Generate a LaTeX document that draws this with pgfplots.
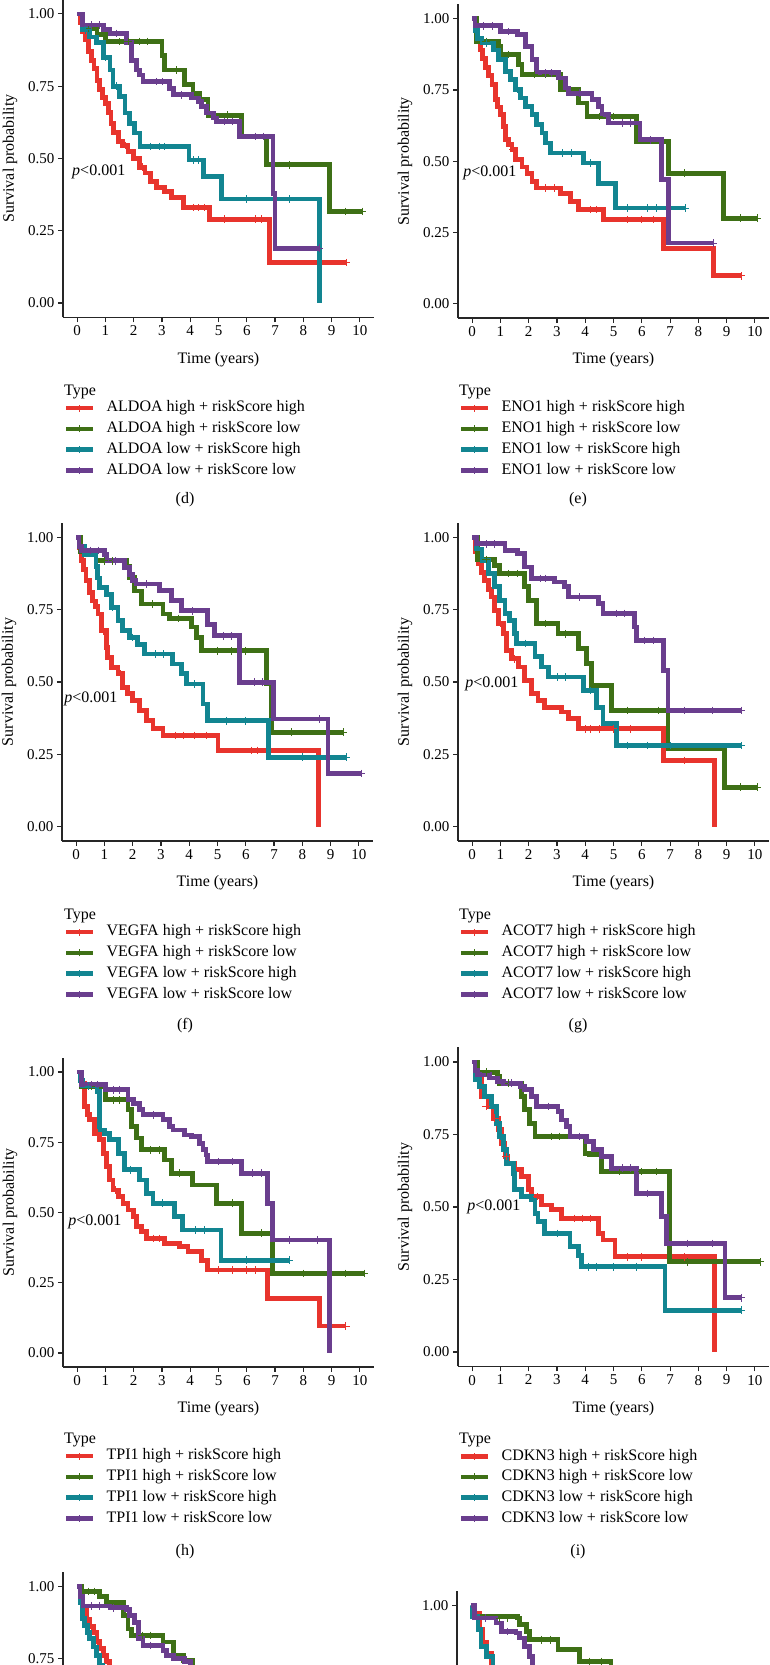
\documentclass[border=0pt]{standalone}
\usepackage{fontspec}
\setmainfont{Liberation Serif}
\usepackage{pgfplots}
\pgfplotsset{compat=1.18}
\definecolor{kmred}{RGB}{232,52,45}
\definecolor{kmgreen}{RGB}{62,112,22}
\definecolor{kmteal}{RGB}{18,133,145}
\definecolor{kmpurple}{RGB}{106,62,142}
\newcommand{\kf}{\fontsize{16}{19}\selectfont}
\pgfplotsset{
  /pgf/number format/assume math mode=true,
  legend image code/.code={
    \draw[#1, line width=4.5pt] (0pt,0pt) -- (27pt,0pt);
    \draw[#1, line width=0.8pt] (13.5pt,-3.5pt) -- (13.5pt,3.5pt);
    \path (38pt,0pt);
  },
  km/.style={
    scale only axis, width=311pt, anchor=south west,
    xmin=-0.5, xmax=10.5, ymin=-0.05, ymax=1.05,
    axis lines=left, axis line style={-, line width=1.1pt, black!85},
    tick style={line width=1.1pt, black!85}, tick align=outside, major tick length=5pt,
    xtick={0,...,10}, ytick={0,0.25,0.5,0.75,1},
    yticklabel={\pgfmathprintnumber[fixed,fixed zerofill,precision=2]{\tick}},
    tick label style={font=\fontsize{15}{18}\selectfont},
    xlabel={Time (years)}, ylabel={Survival probability},
    every axis x label/.style={at={(axis description cs:0.5,0)}, yshift=-42pt, anchor=center, font=\kf},
    every axis y label/.style={at={(axis description cs:-0.1704,0.5)}, rotate=90, anchor=center, font=\kf},
    clip=false,
    legend cell align=left,
    legend style={draw=none, fill=none, inner sep=0pt, outer sep=0pt, anchor=north west,
      row sep=6.2pt, nodes={inner sep=0pt, text height=11pt, text depth=3.5pt, font=\kf}},
  },
  kml/.style={const plot, line width=4.8pt, no marks},
  cens/.style={only marks, mark=+, mark size=3.8pt, mark options={line width=0.8pt}, forget plot},
}
\begin{document}
\begin{tikzpicture}
\useasboundingbox (0,0) rectangle (770pt,1665pt);
\clip (0,0) rectangle (770pt,1665pt);

% panel labels and legend titles
\foreach \yy/\la/\lb in {1165/d/e, 639/f/g, 113/h/i}{
  \node[font=\kf] at (185pt,\yy pt) {(\la)};
  \node[font=\kf] at (578pt,\yy pt) {(\lb)};
}
\foreach \yy in {1269, 745, 221}{
  \node[font=\kf, anchor=base west, inner sep=0pt] at (64pt,\yy pt) {Type};
  \node[font=\kf, anchor=base west, inner sep=0pt] at (459pt,\yy pt) {Type};
}

% (d) ALDOA
\begin{axis}[km, at={(63pt,1347.5pt)}, height=318pt,
  legend style={at={(axis description cs:0,0)}, xshift=1pt, yshift=-83.5pt},
  legend entries={ALDOA high + riskScore high, ALDOA high + riskScore low, ALDOA low + riskScore high, ALDOA low + riskScore low}]
\addplot[kml, kmred] coordinates {(0,1) (0.1,0.97) (0.2,0.94) (0.3,0.91) (0.4,0.87) (0.5,0.84) (0.6,0.81) (0.7,0.77) (0.8,0.74) (0.9,0.71) (1.0,0.69) (1.1,0.66) (1.2,0.62) (1.3,0.59) (1.45,0.56) (1.6,0.545) (1.8,0.525) (2.0,0.50) (2.2,0.47) (2.4,0.45) (2.6,0.42) (2.8,0.40) (3.1,0.385) (3.35,0.365) (3.75,0.33) (4.67,0.29) (6.8,0.14) (9.53,0.14)};
\addplot[kml, kmgreen] coordinates {(0,1) (0.2,0.95) (0.7,0.93) (1.0,0.905) (3.0,0.855) (3.1,0.806) (3.8,0.755) (4.1,0.726) (4.34,0.703) (4.63,0.65) (5.81,0.576) (6.7,0.478) (8.94,0.317) (10.1,0.317)};
\addplot[kml, kmteal] coordinates {(0,1) (0.2,0.945) (0.45,0.92) (0.68,0.9) (0.92,0.85) (1.16,0.806) (1.27,0.75) (1.5,0.714) (1.69,0.657) (1.86,0.622) (2.04,0.588) (2.22,0.541) (3.96,0.495) (4.46,0.438) (5.1,0.36) (8.56,0)};
\addplot[kml, kmpurple] coordinates {(0,1) (0.2,0.962) (0.92,0.945) (1.16,0.933) (1.75,0.9) (1.92,0.84) (2.1,0.806) (2.2,0.789) (2.33,0.766) (3.28,0.743) (3.4,0.72) (4.04,0.709) (4.28,0.697) (4.4,0.68) (4.58,0.657) (4.81,0.64) (4.93,0.628) (5.75,0.576) (6.93,0.38) (7.0,0.19) (8.56,0.19)};
\addplot[cens, kmred] coordinates {(0.55,0.84) (1.05,0.69) (1.7,0.545) (2.3,0.47) (4.1,0.33) (4.3,0.33) (4.5,0.33) (5.2,0.29) (6.3,0.29) (6.5,0.29) (9.53,0.14)};
\addplot[cens, kmgreen] coordinates {(0.4,0.95) (1.5,0.905) (1.8,0.905) (2.2,0.905) (2.5,0.905) (3.5,0.806) (5.3,0.65) (7.5,0.478) (9.5,0.317) (10.1,0.317)};
\addplot[cens, kmteal] coordinates {(0.3,0.945) (1.0,0.85) (1.4,0.75) (2.6,0.541) (2.9,0.541) (3.1,0.541) (4.1,0.495) (4.3,0.495) (6.0,0.36) (7.5,0.36)};
\addplot[cens, kmpurple] coordinates {(0.5,0.962) (0.8,0.962) (1.4,0.933) (2.8,0.766) (3.0,0.766) (3.7,0.72) (5.2,0.628) (5.5,0.628) (6.3,0.576) (6.6,0.576) (8.56,0.19)};
\node[font=\kf, anchor=west, inner sep=0pt] at (axis cs:-0.18,0.455) {\textit{p}<0.001};
\end{axis}

% (e) ENO1
\begin{axis}[km, at={(458pt,1347pt)}, height=313.5pt,
  legend style={at={(axis description cs:0,0)}, xshift=1pt, yshift=-83pt},
  legend entries={ENO1 high + riskScore high, ENO1 high + riskScore low, ENO1 low + riskScore high, ENO1 low + riskScore low}]
\addplot[kml, kmred] coordinates {(0,1) (0.1,0.96) (0.2,0.92) (0.29,0.89) (0.38,0.86) (0.47,0.83) (0.58,0.80) (0.7,0.77) (0.82,0.716) (0.9,0.69) (1.0,0.663) (1.12,0.622) (1.18,0.575) (1.3,0.56) (1.41,0.54) (1.53,0.505) (1.76,0.48) (1.94,0.458) (2.12,0.43) (2.29,0.406) (3.12,0.388) (3.47,0.36) (3.76,0.33) (4.65,0.295) (6.76,0.195) (8.53,0.098) (9.53,0.098)};
\addplot[kml, kmgreen] coordinates {(0,1) (0.15,0.92) (0.94,0.903) (1.0,0.874) (1.65,0.839) (1.76,0.804) (3.12,0.751) (3.76,0.704) (4.06,0.657) (5.82,0.57) (6.94,0.458) (8.9,0.30) (10.1,0.30)};
\addplot[kml, kmteal] coordinates {(0,1) (0.1,0.96) (0.2,0.93) (0.35,0.915) (0.76,0.89) (0.94,0.856) (1.18,0.815) (1.35,0.786) (1.53,0.751) (1.7,0.722) (1.88,0.692) (2.12,0.663) (2.29,0.628) (2.47,0.599) (2.59,0.564) (2.76,0.529) (3.94,0.494) (4.47,0.423) (5.06,0.336) (7.53,0.336)};
\addplot[kml, kmpurple] coordinates {(0,1) (0.1,0.975) (1.0,0.955) (1.6,0.944) (1.88,0.903) (2.12,0.856) (2.29,0.81) (3.06,0.792) (3.29,0.757) (3.41,0.739) (4.24,0.716) (4.47,0.692) (4.59,0.663) (4.82,0.634) (5.94,0.575) (6.7,0.435) (6.94,0.213) (8.53,0.213)};
\addplot[cens, kmred] coordinates {(0.75,0.77) (1.45,0.54) (2.6,0.406) (2.9,0.406) (4.2,0.33) (4.4,0.33) (5.5,0.295) (6.0,0.295) (6.4,0.295) (9.53,0.098)};
\addplot[cens, kmgreen] coordinates {(0.5,0.92) (1.3,0.874) (2.2,0.804) (2.6,0.804) (4.5,0.657) (5.0,0.657) (7.5,0.458) (9.5,0.30) (10.1,0.30)};
\addplot[cens, kmteal] coordinates {(0.5,0.915) (1.6,0.751) (3.2,0.529) (3.5,0.529) (4.2,0.494) (5.5,0.336) (6.2,0.336) (6.5,0.336) (7.53,0.336)};
\addplot[cens, kmpurple] coordinates {(0.4,0.975) (0.7,0.975) (1.3,0.955) (2.6,0.81) (2.8,0.81) (3.8,0.739) (5.3,0.634) (5.6,0.634) (6.3,0.575) (8.53,0.213)};
\node[font=\kf, anchor=west, inner sep=0pt] at (axis cs:-0.32,0.458) {\textit{p}<0.001};
\end{axis}

% (f) VEGFA
\begin{axis}[km, at={(62pt,824pt)}, height=318pt,
  legend style={at={(axis description cs:0,0)}, xshift=2pt, yshift=-84pt},
  legend entries={VEGFA high + riskScore high, VEGFA high + riskScore low, VEGFA low + riskScore high, VEGFA low + riskScore low}]
\addplot[kml, kmred] coordinates {(0,1) (0.12,0.965) (0.18,0.92) (0.25,0.89) (0.35,0.85) (0.47,0.81) (0.59,0.78) (0.68,0.76) (0.77,0.735) (0.89,0.677) (1.06,0.62) (1.12,0.585) (1.24,0.55) (1.48,0.528) (1.65,0.48) (1.83,0.459) (2.0,0.435) (2.24,0.40) (2.48,0.366) (2.72,0.338) (3.07,0.315) (5.02,0.263) (8.56,0)};
\addplot[kml, kmgreen] coordinates {(0,1) (0.15,0.95) (0.7,0.919) (1.8,0.9) (1.89,0.862) (2.07,0.815) (2.3,0.77) (3.07,0.735) (3.3,0.72) (4.07,0.69) (4.25,0.654) (4.43,0.608) (6.73,0.493) (6.9,0.326) (9.44,0.326)};
\addplot[kml, kmteal] coordinates {(0,1) (0.1,0.97) (0.3,0.94) (0.7,0.90) (0.76,0.86) (0.83,0.827) (1.06,0.804) (1.24,0.758) (1.48,0.712) (1.65,0.677) (1.89,0.654) (2.18,0.631) (2.42,0.597) (3.42,0.562) (3.72,0.528) (3.9,0.493) (4.49,0.424) (4.66,0.366) (6.79,0.24) (9.56,0.24)};
\addplot[kml, kmpurple] coordinates {(0,1) (0.1,0.97) (0.2,0.955) (1.0,0.94) (1.06,0.919) (1.71,0.896) (1.89,0.873) (2.0,0.85) (2.12,0.839) (2.95,0.816) (3.36,0.781) (3.72,0.746) (4.66,0.70) (4.9,0.66) (5.79,0.499) (6.97,0.372) (8.91,0.184) (10.1,0.184)};
\addplot[cens, kmred] coordinates {(0.95,0.677) (1.55,0.528) (3.5,0.315) (3.8,0.315) (4.2,0.315) (4.6,0.315) (6.2,0.263) (6.4,0.263)};
\addplot[cens, kmgreen] coordinates {(1.0,0.919) (1.3,0.919) (2.7,0.77) (3.6,0.72) (5.0,0.608) (5.5,0.608) (6.0,0.608) (7.6,0.326) (9.44,0.326)};
\addplot[cens, kmteal] coordinates {(1.3,0.758) (2.0,0.654) (2.8,0.597) (3.1,0.597) (4.2,0.493) (5.3,0.366) (6.0,0.366) (8.0,0.24) (9.56,0.24)};
\addplot[cens, kmpurple] coordinates {(0.5,0.955) (0.8,0.955) (1.4,0.919) (2.5,0.839) (4.1,0.746) (5.2,0.66) (5.5,0.66) (6.3,0.499) (6.6,0.499) (8.6,0.372) (10.1,0.184)};
\node[font=\kf, anchor=west, inner sep=0pt] at (axis cs:-0.42,0.44) {\textit{p}<0.001};
\end{axis}

% (g) ACOT7
\begin{axis}[km, at={(458pt,824pt)}, height=318pt,
  legend style={at={(axis description cs:0,0)}, xshift=1pt, yshift=-84pt},
  legend entries={ACOT7 high + riskScore high, ACOT7 high + riskScore low, ACOT7 low + riskScore high, ACOT7 low + riskScore low}]
\addplot[kml, kmred] coordinates {(0,1) (0.1,0.95) (0.21,0.91) (0.33,0.88) (0.45,0.852) (0.57,0.82) (0.68,0.794) (0.8,0.748) (0.92,0.702) (1.1,0.667) (1.21,0.61) (1.39,0.58) (1.63,0.552) (1.86,0.506) (2.1,0.46) (2.33,0.436) (2.57,0.413) (3.16,0.396) (3.4,0.373) (3.75,0.338) (6.76,0.229) (8.58,0)};
\addplot[kml, kmgreen] coordinates {(0,1) (0.2,0.924) (0.8,0.904) (0.98,0.875) (1.86,0.829) (1.98,0.783) (2.28,0.702) (3.04,0.667) (3.75,0.615) (4.04,0.564) (4.22,0.488) (4.93,0.402) (6.93,0.269) (8.92,0.136) (10.1,0.136)};
\addplot[kml, kmteal] coordinates {(0,1) (0.15,0.96) (0.35,0.92) (0.57,0.875) (0.8,0.829) (0.98,0.783) (1.16,0.737) (1.33,0.714) (1.51,0.667) (1.57,0.633) (2.22,0.587) (2.45,0.552) (2.69,0.517) (3.93,0.471) (4.4,0.413) (4.63,0.356) (5.1,0.28) (9.53,0.28)};
\addplot[kml, kmpurple] coordinates {(0,1) (0.15,0.978) (1.16,0.956) (1.6,0.945) (1.86,0.898) (2.1,0.858) (2.92,0.846) (3.28,0.829) (3.4,0.794) (4.46,0.771) (4.63,0.737) (5.75,0.69) (5.81,0.644) (6.76,0.54) (6.93,0.402) (9.53,0.402)};
\addplot[cens, kmred] coordinates {(1.0,0.702) (1.5,0.58) (4.0,0.338) (4.2,0.338) (4.5,0.338) (5.0,0.338) (5.6,0.338) (7.5,0.229)};
\addplot[cens, kmgreen] coordinates {(0.5,0.924) (1.3,0.875) (1.6,0.875) (2.6,0.702) (3.3,0.667) (5.5,0.402) (6.6,0.402) (9.5,0.136) (10.1,0.136)};
\addplot[cens, kmteal] coordinates {(1.9,0.633) (3.0,0.517) (3.3,0.517) (4.2,0.471) (5.5,0.28) (6.2,0.28) (7.0,0.28) (9.53,0.28)};
\addplot[cens, kmpurple] coordinates {(0.5,0.978) (0.8,0.978) (2.4,0.858) (2.6,0.858) (3.8,0.794) (5.1,0.737) (5.4,0.737) (6.1,0.644) (6.4,0.644) (7.5,0.402) (8.5,0.402) (9.53,0.402)};
\node[font=\kf, anchor=west, inner sep=0pt] at (axis cs:-0.25,0.494) {\textit{p}<0.001};
\end{axis}

% (h) TPI1
\begin{axis}[km, at={(63pt,298pt)}, height=309pt,
  legend style={at={(axis description cs:0,0)}, xshift=1pt, yshift=-82pt},
  legend entries={TPI1 high + riskScore high, TPI1 high + riskScore low, TPI1 low + riskScore high, TPI1 low + riskScore low}]
\addplot[kml, kmred] coordinates {(0,1) (0.15,0.96) (0.27,0.878) (0.36,0.85) (0.45,0.83) (0.62,0.782) (0.8,0.759) (0.92,0.711) (1.04,0.663) (1.15,0.616) (1.27,0.58) (1.45,0.556) (1.62,0.533) (1.8,0.509) (1.98,0.485) (2.09,0.45) (2.27,0.432) (2.45,0.408) (3.09,0.39) (3.62,0.378) (3.92,0.36) (4.39,0.33) (4.62,0.295) (6.74,0.194) (8.56,0.096) (9.5,0.096)};
\addplot[kml, kmgreen] coordinates {(0,1) (0.15,0.949) (1.0,0.901) (1.8,0.866) (1.92,0.806) (2.09,0.765) (2.27,0.723) (3.09,0.687) (3.33,0.64) (4.09,0.598) (4.92,0.533) (5.8,0.426) (6.92,0.283) (10.15,0.283)};
\addplot[kml, kmteal] coordinates {(0,1) (0.1,0.97) (0.2,0.95) (0.7,0.93) (0.8,0.794) (0.98,0.78) (1.15,0.759) (1.45,0.711) (1.68,0.652) (2.21,0.616) (2.45,0.568) (2.68,0.533) (3.45,0.485) (3.74,0.438) (5.09,0.33) (7.5,0.33)};
\addplot[kml, kmpurple] coordinates {(0,1) (0.15,0.955) (1.0,0.937) (1.8,0.901) (1.98,0.889) (2.21,0.866) (2.33,0.848) (3.04,0.83) (3.27,0.806) (3.39,0.794) (3.8,0.776) (4.04,0.77) (4.33,0.747) (4.45,0.723) (4.56,0.705) (4.62,0.681) (5.8,0.64) (6.74,0.533) (6.92,0.402) (8.92,0)};
\addplot[cens, kmred] coordinates {(0.7,0.782) (1.35,0.58) (2.7,0.408) (2.9,0.408) (5.0,0.295) (5.5,0.295) (6.0,0.295) (6.3,0.295) (9.5,0.096)};
\addplot[cens, kmgreen] coordinates {(0.5,0.949) (1.3,0.901) (1.5,0.901) (2.6,0.723) (2.9,0.723) (3.6,0.64) (5.5,0.533) (6.5,0.426) (8.0,0.283) (9.5,0.283) (10.15,0.283)};
\addplot[cens, kmteal] coordinates {(0.4,0.95) (1.9,0.652) (3.0,0.533) (4.2,0.438) (4.5,0.438) (6.0,0.33) (7.5,0.33)};
\addplot[cens, kmpurple] coordinates {(0.5,0.955) (0.7,0.955) (1.3,0.937) (1.5,0.937) (2.7,0.848) (5.0,0.681) (5.5,0.681) (6.2,0.64) (6.5,0.64) (7.5,0.402) (8.5,0.402)};
\node[font=\kf, anchor=west, inner sep=0pt] at (axis cs:-0.32,0.467) {\textit{p}<0.001};
\end{axis}

% (i) CDKN3
\begin{axis}[km, at={(458pt,298.5pt)}, height=319pt,
  legend style={at={(axis description cs:0,0)}, xshift=1pt, yshift=-82.5pt},
  legend entries={CDKN3 high + riskScore high, CDKN3 high + riskScore low, CDKN3 low + riskScore high, CDKN3 low + riskScore low}]
\addplot[kml, kmred] coordinates {(0,1) (0.15,0.962) (0.27,0.945) (0.33,0.88) (0.57,0.847) (0.74,0.806) (0.92,0.766) (1.04,0.72) (1.16,0.674) (1.27,0.651) (1.51,0.628) (1.75,0.605) (1.98,0.559) (2.1,0.536) (2.45,0.507) (2.81,0.49) (3.16,0.461) (4.46,0.409) (4.63,0.386) (5.05,0.328) (8.56,0)};
\addplot[kml, kmgreen] coordinates {(0,1) (0.2,0.965) (0.9,0.95) (0.98,0.927) (1.75,0.88) (1.86,0.835) (2.04,0.789) (2.22,0.743) (3.99,0.685) (4.16,0.68) (4.58,0.622) (6.99,0.311) (10.18,0.311)};
\addplot[kml, kmteal] coordinates {(0,1) (0.1,0.94) (0.25,0.916) (0.45,0.88) (0.68,0.847) (0.86,0.789) (0.98,0.743) (1.1,0.697) (1.21,0.651) (1.45,0.616) (1.51,0.559) (1.75,0.536) (2.1,0.524) (2.22,0.478) (2.33,0.45) (2.57,0.409) (3.46,0.363) (3.75,0.334) (3.87,0.294) (6.82,0.144) (9.53,0.144)};
\addplot[kml, kmpurple] coordinates {(0,1) (0.1,0.97) (0.2,0.956) (0.6,0.945) (0.9,0.933) (1.1,0.927) (1.7,0.915) (1.86,0.904) (2.1,0.881) (2.28,0.847) (3.04,0.83) (3.16,0.8) (3.34,0.778) (3.46,0.743) (4.04,0.726) (4.28,0.697) (4.58,0.674) (4.93,0.634) (5.81,0.547) (6.7,0.467) (6.88,0.374) (8.94,0.187) (9.53,0.187)};
\addplot[cens, kmred] coordinates {(0.5,0.847) (0.8,0.806) (1.2,0.674) (2.3,0.536) (3.6,0.461) (3.9,0.461) (4.2,0.461) (5.5,0.328) (6.0,0.328) (7.5,0.328)};
\addplot[cens, kmgreen] coordinates {(0.5,0.965) (1.3,0.927) (2.8,0.743) (3.1,0.743) (5.2,0.622) (6.0,0.622) (6.5,0.622) (7.6,0.311) (10.18,0.311)};
\addplot[cens, kmteal] coordinates {(1.0,0.743) (3.0,0.409) (4.1,0.294) (4.4,0.294) (5.0,0.294) (5.8,0.294) (9.53,0.144)};
\addplot[cens, kmpurple] coordinates {(1.4,0.927) (2.7,0.847) (3.8,0.743) (5.3,0.634) (5.6,0.634) (6.2,0.547) (7.6,0.374) (8.5,0.374) (9.53,0.187)};
\node[font=\kf, anchor=west, inner sep=0pt] at (axis cs:-0.18,0.50) {\textit{p}<0.001};
\end{axis}

% (j) partly visible
\begin{axis}[km, at={(63pt,-224pt)}, height=317pt, xtick=\empty, ytick={0.75,1}, xlabel={}, ylabel={}]
\addplot[kml, kmred] coordinates {(0,1) (0.1,0.977) (0.2,0.93) (0.33,0.886) (0.45,0.86) (0.57,0.84) (0.7,0.81) (0.8,0.784) (0.92,0.76) (1.04,0.739) (1.15,0.70) (1.3,0.65)};
\addplot[kml, kmgreen] coordinates {(0,1) (0.15,0.983) (0.8,0.966) (1.04,0.943) (1.63,0.898) (1.8,0.852) (1.92,0.83) (3.04,0.807) (3.4,0.761) (3.75,0.744) (4.1,0.70) (5.0,0.70)};
\addplot[kml, kmteal] coordinates {(0,1) (0.1,0.943) (0.2,0.89) (0.27,0.864) (0.36,0.84) (0.45,0.818) (0.57,0.79) (0.68,0.761) (0.8,0.727) (0.9,0.69) (1.0,0.65)};
\addplot[kml, kmpurple] coordinates {(0,1) (0.1,0.966) (0.21,0.932) (1.16,0.926) (1.75,0.92) (1.86,0.898) (2.04,0.875) (2.16,0.818) (2.33,0.795) (3.04,0.778) (3.16,0.761) (3.4,0.75) (3.8,0.739) (4.0,0.70) (5.0,0.70)};
\addplot[cens, kmgreen] coordinates {(0.4,0.983) (0.6,0.983) (2.3,0.83) (2.6,0.83)};
\addplot[cens, kmpurple] coordinates {(0.5,0.932) (0.8,0.932) (1.3,0.926) (2.6,0.795)};
\end{axis}

% (k) partly visible
\begin{axis}[km, at={(457pt,-243pt)}, height=317pt, xtick=\empty, ytick={1}, xlabel={}, ylabel={}]
\addplot[kml, kmred] coordinates {(0,1) (0.12,0.973) (0.29,0.916) (0.41,0.87) (0.53,0.835) (0.71,0.78) (0.9,0.7)};
\addplot[kml, kmgreen] coordinates {(0,1) (0.12,0.962) (1.65,0.956) (1.71,0.933) (1.95,0.91) (2.06,0.881) (3.07,0.846) (3.83,0.806) (4.95,0.75) (6.0,0.70)};
\addplot[kml, kmteal] coordinates {(0,1) (0.06,0.962) (0.24,0.916) (0.35,0.858) (0.53,0.823) (0.77,0.78) (0.9,0.7)};
\addplot[kml, kmpurple] coordinates {(0,1) (0.12,0.956) (0.77,0.956) (0.88,0.939) (1.06,0.91) (1.59,0.904) (1.71,0.887) (1.89,0.858) (2.06,0.823) (2.18,0.78) (2.5,0.7)};
\addplot[cens, kmgreen] coordinates {(1.0,0.956) (1.3,0.956) (2.5,0.881) (2.8,0.881) (4.2,0.806) (4.6,0.806)};
\addplot[cens, kmpurple] coordinates {(0.5,0.956) (1.3,0.91)};
\end{axis}
\end{tikzpicture}
\end{document}
